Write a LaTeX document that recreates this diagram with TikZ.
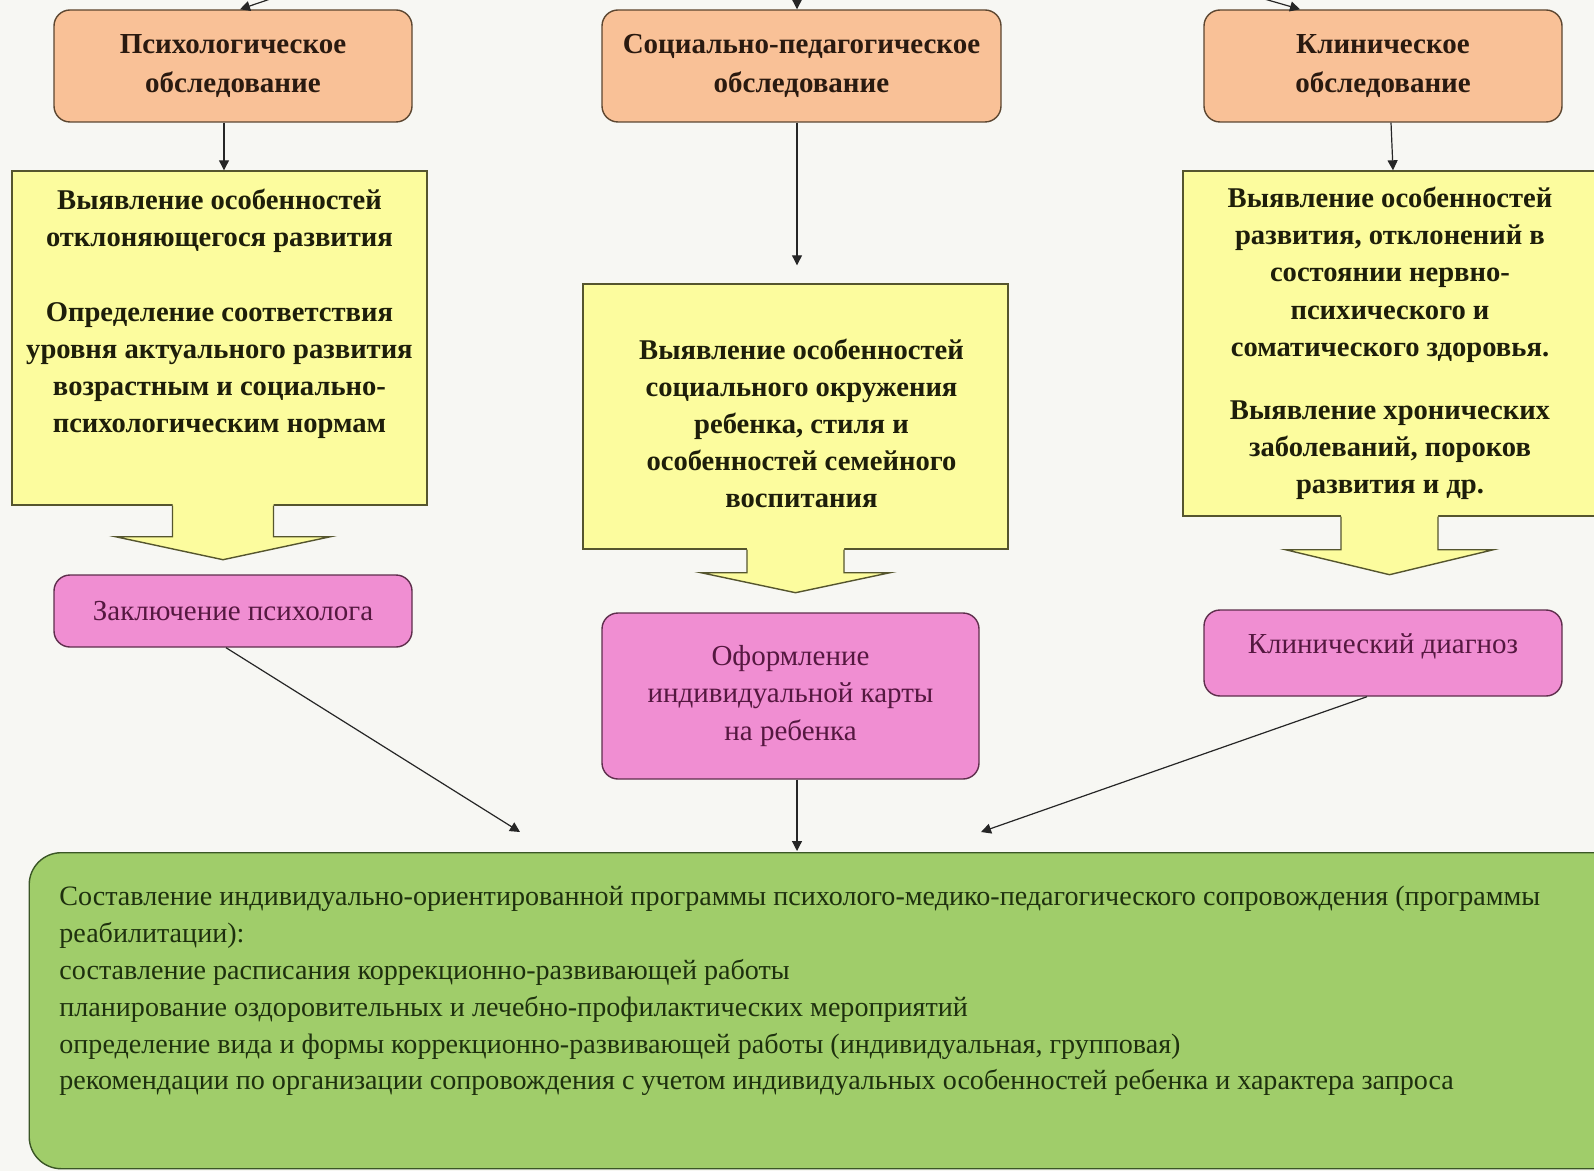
\documentclass[tikz,border=0pt]{standalone}
\usepackage{fontspec}
\setmainfont{Liberation Serif}
\usetikzlibrary{arrows.meta,positioning,calc}
\definecolor{bg}{HTML}{F7F7F3}
\definecolor{examfill}{HTML}{F9C197}
\definecolor{examline}{HTML}{5C4630}
\definecolor{examtext}{HTML}{2A1A10}
\definecolor{findfill}{HTML}{FCFC9E}
\definecolor{findline}{HTML}{55552E}
\definecolor{findtext}{HTML}{1E1E0A}
\definecolor{resfill}{HTML}{F08ED2}
\definecolor{resline}{HTML}{5E2E4C}
\definecolor{restext}{HTML}{551840}
\definecolor{progfill}{HTML}{A0CD6A}
\definecolor{progline}{HTML}{3A5626}
\definecolor{progtext}{HTML}{1E300E}
\tikzset{
  exam/.style={draw=examline,fill=examfill,line width=0.7pt,rounded corners=8pt,
    align=center,minimum width=179pt,minimum height=56pt,text=examtext,
    font=\fontsize{14.5}{19.3}\selectfont\bfseries},
  findbox/.style={draw=findline,fill=findfill,line width=0.7pt,inner sep=0pt},
  findtxt/.style={align=center,inner sep=0pt,text=findtext,
    font=\fontsize{14.3}{18.6}\selectfont\bfseries},
  result/.style={draw=resline,fill=resfill,line width=0.7pt,rounded corners=8pt,
    align=center,text=restext,font=\fontsize{14.5}{18.8}\selectfont},
  progbox/.style={draw=progline,fill=progfill,line width=0.7pt,rounded corners=16pt,
    inner sep=0pt},
  progtxt/.style={align=left,inner sep=0pt,text=progtext,
    font=\fontsize{14.05}{18.4}\selectfont},
  arr/.style={-{Triangle[length=5pt,width=5pt]},line width=0.6pt,draw=black!85}
}

\begin{document}
\begin{tikzpicture}[x=1pt,y=-1pt]
    \useasboundingbox (0,0) rectangle (797,585.5);
    \clip (0,0) rectangle (797,585.5);
    \fill[bg] (0,0) rectangle (797,585.5);
    % examinations
    \node[exam] (ol) at (116.5,33) {Психологическое\\обследование};
    \node[exam,minimum width=199.5pt] (om) at (400.75,33) {Социально-педагогическое\\обследование};
    \node[exam] (or) at (691.5,33) {Клиническое\\обследование};
    % findings
    \node[findbox,minimum width=207.5pt,minimum height=167pt] (yl) at (109.75,169) {};
    \node[findbox,minimum width=212.5pt,minimum height=132.5pt] (ym) at (397.75,208.25) {};
    \node[findbox,minimum width=207pt,minimum height=172.5pt] (yr) at (695,171.75) {};
    \foreach \b/\dx/\sw/\hw/\sh/\hh in {yl/1.75/25.25/53.75/15.5/11.5,
        ym/0/24.25/47.25/11.5/10, yr/-0.25/24.25/52/16.5/12.5}{
      \coordinate (t) at ($(\b.south)+(\dx,0)$);
      \fill[findfill] ($(t)+(-\sw,-1.5)$) -- ($(t)+(-\sw,\sh)$) -- ($(t)+(-\hw,\sh)$)
        -- ($(t)+(0,\sh+\hh)$) -- ($(t)+(\hw,\sh)$) -- ($(t)+(\sw,\sh)$)
        -- ($(t)+(\sw,-1.5)$) -- cycle;
      \draw[findline,line width=0.7pt] ($(t)+(-\sw,0)$) -- ($(t)+(-\sw,\sh)$)
        -- ($(t)+(-\hw,\sh)$) -- ($(t)+(0,\sh+\hh)$) -- ($(t)+(\hw,\sh)$)
        -- ($(t)+(\sw,\sh)$) -- ($(t)+(\sw,0)$);
    }
    \node[findtxt] (tl) at ($(yl)+(0,-12)$) {Выявление особенностей\\отклоняющегося развития\\[18.5pt]
      Определение соответствия\\уровня актуального развития\\возрастным и социально-\\психологическим нормам};
    \node[findtxt] (tm) at ($(ym)+(3,3.5)$) {Выявление особенностей\\социального окружения\\ребенка, стиля и\\
      особенностей семейного\\воспитания};
    \node[findtxt] (tr) at (yr) {Выявление особенностей\\развития, отклонений в\\состоянии нервно-\\психического и\\
      соматического здоровья.\\[13pt]Выявление хронических\\заболеваний, пороков\\развития и др.};
    % results
    \node[result,minimum width=179pt,minimum height=36pt] (pl) at (116.5,305.5) {Заключение психолога};
    \node[result,minimum width=188.5pt,minimum height=83pt] (pm) at (395.25,348) {Оформление\\индивидуальной карты\\на ребенка};
    \node[result,minimum width=179pt,minimum height=43pt,text depth=9pt] (pr) at (691.5,326.5) {Клинический диагноз};
    % programme
    \node[progbox,minimum width=800pt,minimum height=158pt,anchor=north west] (gr) at (14.25,426) {};
    \node[progtxt,anchor=north west] (gt) at (29.5,443) {Составление индивидуально-ориентированной программы психолого-медико-педагогического сопровождения (программы\\
      реабилитации):\\
      составление расписания коррекционно-развивающей работы\\
      планирование оздоровительных и лечебно-профилактических мероприятий\\
      определение вида и формы коррекционно-развивающей работы (индивидуальная, групповая)\\
      рекомендации по организации сопровождения с учетом индивидуальных особенностей ребенка и характера запроса};
    % connectors
    \coordinate (inl) at (142.5,-3);
    \coordinate (inm) at (398.5,-3);
    \coordinate (inr) at (623.5,-3);
    \coordinate (gl) at (260,416);
    \coordinate (gm) at (398.5,425.5);
    \coordinate (gr2) at (490.5,416);
    \draw[arr] (inl) -- ($(ol.north)+(3.5,0)$);
    \draw[arr] (inm) -- (inm |- om.north);
    \draw[arr] (inr) -- ($(or.north)+(-41.5,0)$);
    \draw[arr] ($(ol.south)+(-4.5,0)$) coordinate (a) -- (a |- yl.north);
    \draw[arr,shorten >=9pt] (inm |- om.south) -- (inm |- ym.north);
    \draw[arr] ($(or.south)+(4,0)$) -- ($(yr.north)+(1.5,0)$);
    \draw[arr] ($(pl.south)+(-3.5,0)$) -- (gl);
    \draw[arr] (inm |- pm.south) -- (gm);
    \draw[arr] ($(pr.south)+(-8,0)$) -- (gr2);
  \end{tikzpicture}
\end{document}
